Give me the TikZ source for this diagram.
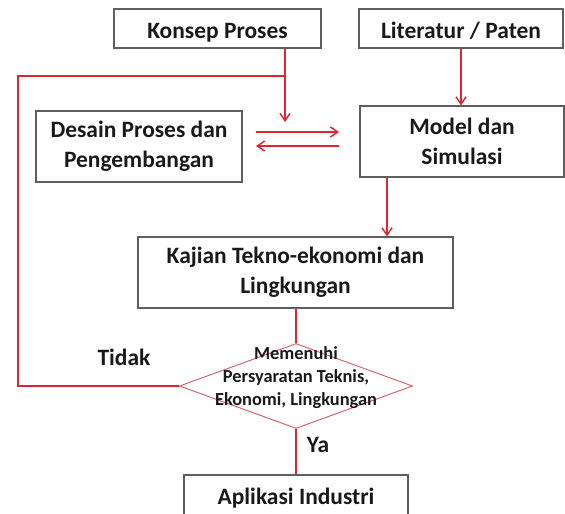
\documentclass[tikz,border=0pt]{standalone}
\usepackage{fontspec}
\setmainfont{Carlito}
\usetikzlibrary{shapes.geometric,arrows.meta,calc}
\definecolor{lred}{RGB}{222,38,48}
\definecolor{dred}{RGB}{212,90,100}
\definecolor{bgray}{RGB}{95,95,95}
\definecolor{txt}{RGB}{25,25,25}
\begin{document}
\begin{tikzpicture}[x=0.75pt,y=-0.75pt,
  box/.style={draw=bgray, line width=0.8pt, fill=white, inner sep=0pt, align=center, text=txt,
              font=\bfseries\fontsize{17.6pt}{22.5pt}\selectfont},
  onebox/.style={box, text height=15pt, text depth=0pt},
  rline/.style={draw=lred, line width=1.1pt},
  arr/.style={rline, -{Straight Barb[length=5.5pt,width=7.5pt,line width=1.1pt]}},
  lab/.style={text=txt, font=\bfseries\fontsize{17.6pt}{22.5pt}\selectfont},
  dlab/.style={text=txt, align=center, font=\bfseries\fontsize{13.8pt}{17.2pt}\selectfont},
  dec/.style={draw=dred, line width=0.7pt, shape=diamond, inner sep=0pt}]

\useasboundingbox (0,0) rectangle (565,514);
\clip (0,0) rectangle (565,514);

\node[onebox, minimum width=207*0.75pt, minimum height=39*0.75pt] (konsep) at (217.5,28.5) {Konsep Proses};
\node[onebox, minimum width=204*0.75pt, minimum height=39*0.75pt] (lit) at (461,28.5) {Literatur / Paten};
\node[box, minimum width=206*0.75pt, minimum height=71*0.75pt] (desain) at (139,146.5) {Desain Proses dan\\Pengembangan};
\node[box, minimum width=204*0.75pt, minimum height=71*0.75pt] (model) at (462,141.5) {Model dan\\Simulasi};
\node[box, minimum width=315*0.75pt, minimum height=71*0.75pt] (kajian) at (295.5,272.5) {Kajian Tekno-ekonomi dan\\Lingkungan};
\node[dec, minimum width=233*0.75pt, minimum height=85*0.75pt] (dia) at (296,386) {};
\node[dlab] (dtext) at (296,378) {Memenuhi\\Persyaratan Teknis,\\Ekonomi, Lingkungan};
\node[box, minimum width=224*0.75pt, minimum height=46*0.75pt] (apl) at (296,498) {Aplikasi Industri};

\node[lab] (tidak) at (124,357) {Tidak};
\node[lab] (ya) at (318,445) {Ya};

\coordinate (k1) at (285,76);
\coordinate (k2) at (285,122);
\coordinate (l1) at (18,76);
\coordinate (l2) at (18,386);
\coordinate (a1) at (256,132);
\coordinate (a2) at (339,132);
\coordinate (b1) at (339,146);
\coordinate (b2) at (256,146);
\coordinate (mx) at (387,0);

\draw[arr] (konsep.south -| k1) -- (k2);
\draw[rline] (dia.west) -- (l2) -- (l1) -- (k1);
\draw[arr] (lit.south) -- (lit.south |- model.north);
\draw[arr] (a1) -- (a2);
\draw[arr] (b1) -- (b2);
\draw[arr] (model.south -| mx) -- (kajian.north -| mx);
\draw[rline] (kajian.south -| dia.north) -- (dia.north);
\draw[rline] (dia.south) -- (apl.north);
\end{tikzpicture}
\end{document}
